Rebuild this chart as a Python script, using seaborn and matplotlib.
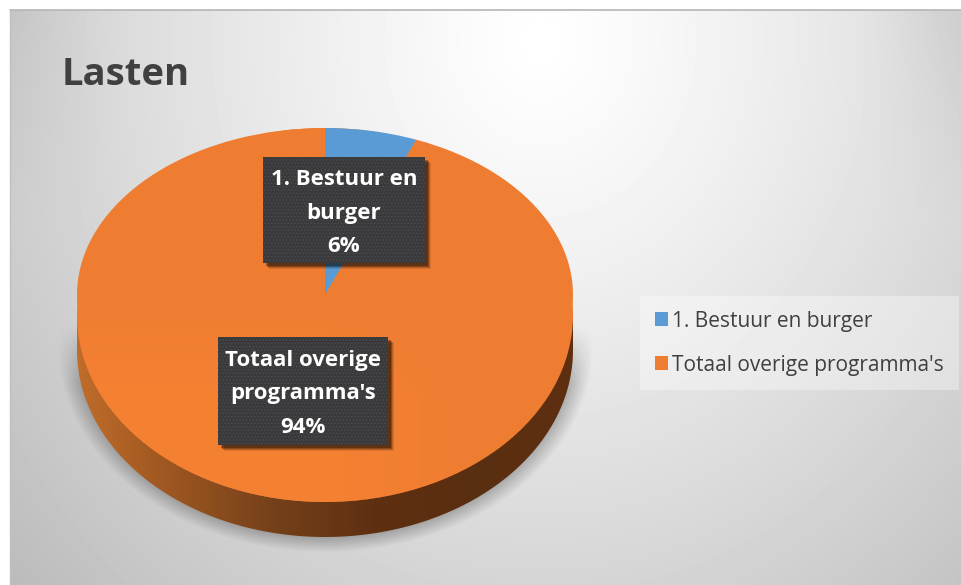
import numpy as np
import seaborn as sns
import matplotlib.pyplot as plt
from matplotlib.patches import Ellipse, Rectangle, PathPatch
from matplotlib.path import Path
from matplotlib.colors import LinearSegmentedColormap

categories = ['1. Bestuur en burger', "Totaal overige programma's"]
label_lines = ['1. Bestuur en\nburger', "Totaal overige\nprogramma's"]
values = [6, 94]
title = 'Lasten'

sns.set_theme(style='white')
plt.rcParams['font.family'] = ['Open Sans', 'DejaVu Sans']
plt.rcParams['hatch.linewidth'] = 0.6
palette = sns.color_palette(['#5B9BD5', '#EF7D31'])

W, H = 962, 585
fig = plt.figure(figsize=(W / 100, H / 100), dpi=100, facecolor='white')

# everything decorative lives in a pixel axes
bg = fig.add_axes([0, 0, 1, 1], zorder=0)
bg.set_xlim(0, W)
bg.set_ylim(H, 0)
bg.axis('off')

# panel gradient
xx, yy = np.meshgrid(np.arange(W), np.arange(H))
dist = np.sqrt(((xx - 540) / 560.0) ** 2 + ((yy - 40) / 640.0) ** 2)
shade = 1.0 - 0.2 * dist ** 1.2
shade -= 0.05 * np.clip((xx - 860) / 100.0, 0, 1) * np.clip((220 - yy) / 200.0, 0, 1)
shade -= 0.04 * np.clip((120 - xx) / 110.0, 0, 1) * np.clip((220 - yy) / 200.0, 0, 1)
im = bg.imshow(shade, cmap='gray', vmin=0, vmax=1, extent=(0, W, H, 0), aspect='auto', zorder=1)
im.set_clip_path(Rectangle((10, 10), W - 10, H - 10, transform=bg.transData))
bg.set_xlim(0, W)
bg.set_ylim(H, 0)
bg.plot([10, W], [10, 10], color='#b5b5b5', lw=1.2, zorder=2)
bg.plot([10, 10], [10, H], color='#c0c0c0', lw=1.0, zorder=2)

# soft shadow below the pie
d2 = np.sqrt(((xx - 325) / 268.0) ** 2 + ((yy - 345) / 207.0) ** 2)
soft = np.clip((1.0 - d2) / 0.12, 0, 1)
ramp = np.clip((yy - 325) / 60.0, 0, 1)
alpha = 0.40 * soft * ramp
alpha[(xx < 60) | (xx > 590) | (yy > 552)] = 0
rgba = np.zeros((H, W, 4))
rgba[..., 3] = alpha
bg.imshow(rgba, extent=(0, W, H, 0), aspect='auto', zorder=3)

# pie side
cx, cy, rx, ry, depth = 325, 315, 248, 187, 35
side_cmap = LinearSegmentedColormap.from_list(
    'side', ['#C06C2A', '#9A5520', '#74401A', '#5E3011', '#5A2E10', '#5E3011'])
t = np.linspace(0, np.pi, 120)
arc_top = np.c_[cx + rx * np.cos(t), cy + ry * np.sin(t) + depth]
side_path = Path(np.r_[[[cx + rx, cy]], arc_top, [[cx - rx, cy]], [[cx + rx, cy]]])
side_im = bg.imshow(np.linspace(0, 1, 256).reshape(1, -1), cmap=side_cmap,
                    extent=(cx - rx, cx + rx, H, 0), aspect='auto', zorder=4)
side_im.set_clip_path(PathPatch(side_path, transform=bg.transData))
bg.set_xlim(0, W)
bg.set_ylim(H, 0)

# top surface, the pie wedges go on top of this
bg.add_patch(Ellipse((cx, cy), 2 * rx, 2 * ry, fc=palette[1], ec='none', zorder=5))
light = np.zeros((H, W, 4))
light[..., :3] = (0.965, 0.51, 0.2)
light[..., 3] = 0.85 * np.clip((yy - 300) / 100.0, 0, 1) * np.clip((470 - xx) / 150.0, 0, 1)

# the pie itself, tip sits above the ellipse middle like in the 3d view
tip_y = 295
up = tip_y - (cy - ry)
pie_ax = fig.add_axes([(cx - rx) / W, 1 - (tip_y + up) / H, 2 * rx / W, 2 * up / H], zorder=1)
wedges, _ = pie_ax.pie(values, colors=palette, startangle=90, counterclock=False, radius=1,
                       wedgeprops={'edgecolor': 'none', 'linewidth': 0})
pie_ax.set_aspect('auto')
pie_ax.set_xlim(-1, 1)
pie_ax.set_ylim(-1, 1)
pie_ax.patch.set_alpha(0)

# overlay for title, boxes
top = fig.add_axes([0, 0, 1, 1], zorder=2)
top.set_xlim(0, W)
top.set_ylim(H, 0)
top.axis('off')
top.patch.set_alpha(0)
lim = top.imshow(light, extent=(0, W, H, 0), aspect='auto', zorder=1)
lim.set_clip_path(Ellipse((cx, cy), 2 * rx, 2 * ry, transform=top.transData))
top.set_xlim(0, W)
top.set_ylim(H, 0)

top.text(62, 75, title, fontsize=27.5, fontweight='bold', color='#404040', va='center', ha='left')

boxes = [(263, 157, 162, 106), (218, 337, 170, 108)]
for (bx, by, bw, bh), name, val in zip(boxes, label_lines, values):
    for off, a in [(6, 0.10), (5, 0.15), (4, 0.25), (3, 0.3)]:
        top.add_patch(Rectangle((bx + off, by + off), bw, bh, fc='black', ec='none', alpha=a, zorder=2))
    top.add_patch(Rectangle((bx, by), bw, bh, fc='#3A3A3C', ec='#4C4C4E', lw=0, hatch='.....', zorder=3))
    top.text(bx + bw / 2, by + bh / 2 + 3, '{}\n{}%'.format(name, val), color='white', fontsize=16,
             fontweight='bold', ha='center', va='center', linespacing=1.78, zorder=4)

leg = top.legend(wedges, categories, loc='upper left', bbox_to_anchor=(640 / W, 1 - 296 / H),
                 bbox_transform=fig.transFigure, fontsize=15, labelcolor='#404040',
                 frameon=True, framealpha=0.35, facecolor='white', edgecolor='none', fancybox=False,
                 handlelength=0.65, handleheight=0.65, handletextpad=0.2, labelspacing=1.1,
                 borderaxespad=0, borderpad=0.7)
leg.set_zorder(5)

fig.savefig('out.png', dpi=100, facecolor='white')
